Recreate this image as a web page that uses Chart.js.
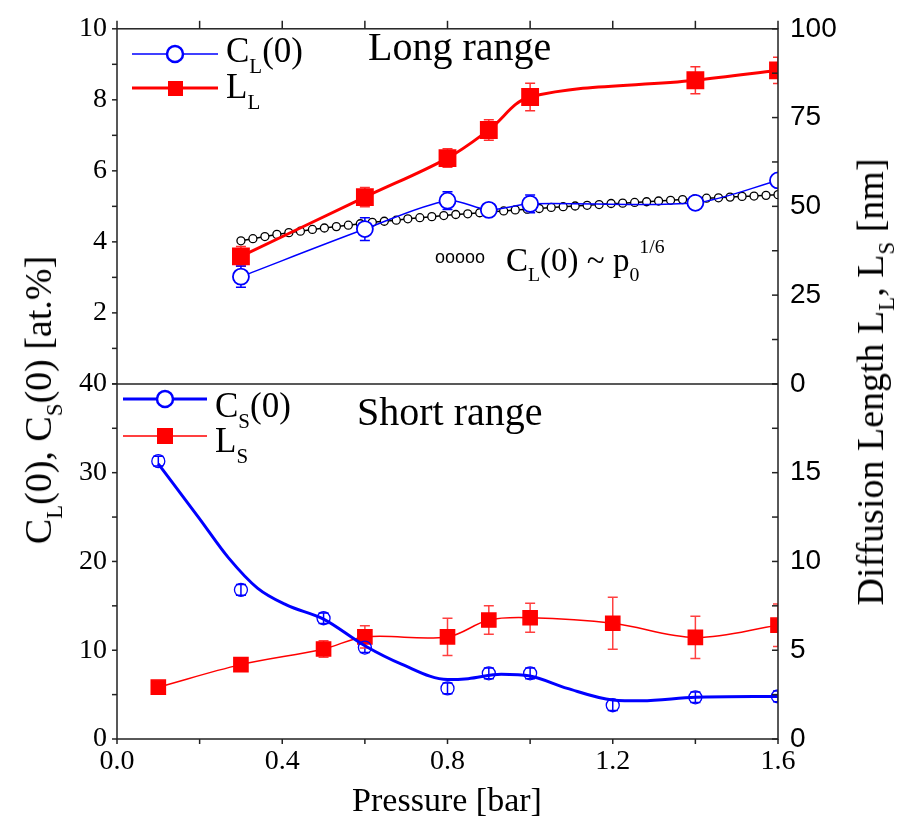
<!DOCTYPE html>
<html>
<head>
<meta charset="utf-8">
<script src="https://cdn.jsdelivr.net/npm/chart.js@4.4.1/dist/chart.umd.min.js"></script>
<style>
    body { margin: 0; background: #fff; }
    #quadro { position: relative; width: 901px; height: 827px; font-family: "Liberation Serif", "Times New Roman", serif; color: #000; }
    #grafico { position: absolute; left: 0; top: 0; }
    .txt { position: absolute; white-space: nowrap; line-height: 1; }
    .txt sub { font-size: 0.6em; vertical-align: -0.5em; line-height: 0; }
    .txt sup { font-size: 0.6em; vertical-align: 0.9em; line-height: 0; }
    .girado { transform: translate(-50%, -50%) rotate(-90deg); }
    svg { position: absolute; }
</style>
</head>
<body>
<div id="quadro">
    <canvas id="grafico" width="901" height="827"></canvas>

    <!-- legenda de cima -->
    <svg style="left:132px; top:42px;" width="86" height="24">
        <line x1="0" y1="12" x2="86" y2="12" stroke="#0000ff" stroke-width="1.5"/>
        <circle cx="43" cy="12" r="8" fill="#fff" stroke="#0000ff" stroke-width="2.5"/>
    </svg>
    <div class="txt" style="left:226px; top:32.7px; font-size:35px;">C<sub>L</sub>(0)</div>
    <svg style="left:132px; top:76px;" width="86" height="24">
        <line x1="0" y1="12" x2="86" y2="12" stroke="#ff0000" stroke-width="3"/>
        <rect x="36" y="5" width="15" height="15" fill="#ff0000"/>
    </svg>
    <div class="txt" style="left:226px; top:68.7px; font-size:35px;">L<sub>L</sub></div>
    <div class="txt" style="left:368px; top:26.5px; font-size:40px;">Long range</div>

    <div class="txt" style="left:435px; top:248px; font-size:18px; font-family:'Liberation Sans', Arial, sans-serif;">ooooo</div>
    <div class="txt" style="left:506px; top:244.4px; font-size:33px;">C<sub>L</sub>(0) ~ p<sub>0</sub><sup>1/6</sup></div>

    <!-- legenda de baixo -->
    <svg style="left:123px; top:387px;" width="84" height="24">
        <line x1="0" y1="12" x2="84" y2="12" stroke="#0000ff" stroke-width="3"/>
        <circle cx="42" cy="12" r="8" fill="#fff" stroke="#0000ff" stroke-width="2.5"/>
    </svg>
    <div class="txt" style="left:215px; top:387.7px; font-size:35px;">C<sub>S</sub>(0)</div>
    <svg style="left:123px; top:424px;" width="84" height="24">
        <line x1="0" y1="12" x2="84" y2="12" stroke="#ff0000" stroke-width="1.5"/>
        <rect x="34" y="4" width="16" height="16" fill="#ff0000"/>
    </svg>
    <div class="txt" style="left:215px; top:422.7px; font-size:35px;">L<sub>S</sub></div>
    <div class="txt" style="left:357px; top:391.5px; font-size:40px;">Short range</div>

    <!-- titulos dos eixos -->
    <div class="txt girado" style="left:38px; top:400px; font-size:38px;">C<sub>L</sub>(0), C<sub>S</sub>(0) [at.%]</div>
    <div class="txt girado" style="left:870px; top:382px; font-size:38px;">Diffusion Length L<sub>L</sub>, L<sub>S</sub> [nm]</div>
    <div class="txt" style="left:447px; top:782.5px; font-size:34px; transform:translateX(-50%);">Pressure [bar]</div>
</div>

<script>
// painel de cima (long range)
const pressaoLongo = [0.3, 0.6, 0.8, 0.9, 1.0, 1.4, 1.6];
const cLongo = [3.02, 4.36, 5.16, 4.90, 5.07, 5.10, 5.73];
const cLongoErro = [0.30, 0.32, 0.25, 0.15, 0.25, 0.10, 0.10];
const lLongo = [35.9, 52.6, 63.6, 71.5, 80.8, 85.5, 88.3];
const lLongoErro = [2.8, 2.7, 2.6, 2.9, 3.9, 3.8, 3.7];

// C_L(0) ~ p0^(1/6), circulos pretos pequenos
const pressaoAjuste = [0.300, 0.329, 0.358, 0.387, 0.416, 0.444, 0.473, 0.502, 0.531, 0.560,
    0.589, 0.618, 0.647, 0.676, 0.704, 0.733, 0.762, 0.791, 0.820, 0.849,
    0.878, 0.907, 0.936, 0.964, 0.993, 1.022, 1.051, 1.080, 1.109, 1.138,
    1.167, 1.196, 1.224, 1.253, 1.282, 1.311, 1.340, 1.369, 1.398, 1.427,
    1.456, 1.484, 1.513, 1.542, 1.571, 1.600];
const cAjuste = [4.03, 4.09, 4.15, 4.21, 4.26, 4.30, 4.35, 4.39, 4.43, 4.47,
    4.51, 4.55, 4.58, 4.61, 4.65, 4.68, 4.71, 4.74, 4.77, 4.79,
    4.82, 4.85, 4.87, 4.90, 4.92, 4.94, 4.97, 4.99, 5.01, 5.03,
    5.05, 5.08, 5.09, 5.11, 5.13, 5.15, 5.17, 5.19, 5.21, 5.23,
    5.24, 5.26, 5.28, 5.29, 5.31, 5.33];

// painel de baixo (short range)
const pressaoCurto = [0.1, 0.3, 0.5, 0.6, 0.8, 0.9, 1.0, 1.2, 1.4, 1.6];
const cCurto = [31.3, 16.8, 13.6, 10.3, 5.7, 7.4, 7.4, 3.8, 4.7, 4.8];
const cCurtoErro = [0.55, 0.6, 0.6, 0.55, 0.6, 0.6, 0.6, 0.6, 0.6, 0.6];
const lCurto = [2.92, 4.19, 5.07, 5.75, 5.75, 6.70, 6.83, 6.52, 5.72, 6.41];
const lCurtoErro = [0, 0, 0.46, 0.63, 1.05, 0.80, 0.82, 1.47, 1.19, 1.20];

// curva suavizada de C_S(0)
const pressaoSuave = [0.10, 0.20, 0.27, 0.34, 0.41, 0.50, 0.60, 0.69, 0.80, 0.85, 0.93, 1.00, 1.09, 1.20, 1.27, 1.40, 1.60];
const cSuave = [31.0, 24.8, 20.4, 17.0, 15.1, 13.5, 10.5, 8.4, 6.7, 6.8, 7.3, 7.1, 5.7, 4.4, 4.3, 4.7, 4.8];

const azul = '#0000ff';
const vermelho = '#ff0000';

function pares(xs, ys) {
    return xs.map((x, i) => ({ x: x, y: ys[i] }));
}

const barrasErro = {
    id: 'barrasErro',
    beforeDatasetsDraw(chart) {
        const ctx = chart.ctx;
        const a = chart.chartArea;
        chart.data.datasets.forEach((ds, i) => {
            if (!ds.erros) return;
            const meta = chart.getDatasetMeta(i);
            const escala = chart.scales[ds.yAxisID];
            ctx.save();
            ctx.beginPath();
            ctx.rect(a.left, a.top - 5, a.right - a.left, a.bottom - a.top + 10);
            ctx.clip();
            ctx.strokeStyle = ds.corErro;
            ctx.lineWidth = 1.5;
            meta.data.forEach((pt, j) => {
                const e = ds.erros[j];
                if (!e) return;
                const v = ds.data[j].y;
                const y1 = escala.getPixelForValue(v + e);
                const y2 = escala.getPixelForValue(v - e);
                const x = pt.x;
                ctx.beginPath();
                ctx.moveTo(x, y1); ctx.lineTo(x, y2);
                ctx.moveTo(x - 5, y1); ctx.lineTo(x + 5, y1);
                ctx.moveTo(x - 5, y2); ctx.lineTo(x + 5, y2);
                ctx.stroke();
            });
            ctx.restore();
        });
    }
};

const moldura = {
    id: 'moldura',
    afterDraw(chart) {
        const { ctx, chartArea: a, scales } = chart;
        ctx.save();
        ctx.strokeStyle = '#222';
        ctx.lineWidth = 1.5;
        const linha = (x1, y1, x2, y2) => {
            ctx.beginPath(); ctx.moveTo(x1, y1); ctx.lineTo(x2, y2); ctx.stroke();
        };
        ctx.strokeRect(a.left, a.top, a.right - a.left, a.bottom - a.top);
        const meio = scales.yEsqTopo.bottom;
        linha(a.left, meio, a.right, meio);

        scales.x.ticks.forEach(t => {
            const px = scales.x.getPixelForValue(t.value);
            linha(px, a.bottom, px, a.bottom + 5);
            linha(px, a.top, px, a.top - 8);
        });
        ['yEsqTopo', 'yEsqBase'].forEach(id => {
            const s = scales[id];
            s.ticks.forEach(t => {
                const py = s.getPixelForValue(t.value);
                linha(a.left - 5, py, a.left, py);
            });
        });
        ['yDirTopo', 'yDirBase'].forEach(id => {
            const s = scales[id];
            s.ticks.forEach(t => {
                const py = s.getPixelForValue(t.value);
                linha(a.right - 6, py, a.right, py);
            });
        });
        ctx.restore();
    }
};

const fonteSerif = { family: 'Liberation Serif', size: 28 };
const fonteSans = { family: 'Liberation Sans', size: 28 };
const semGrade = { display: false, drawTicks: false };

function eixoY(pos, stack, max, passo, mostrar, fonte, largura, pad) {
    return {
        type: 'linear',
        position: pos,
        stack: stack,
        min: 0,
        max: max,
        grid: semGrade,
        border: { display: false },
        ticks: {
            stepSize: passo,
            autoSkip: false,
            padding: pad,
            color: '#000',
            font: fonte,
            callback: v => mostrar(v) ? String(v) : ''
        },
        afterFit: s => { s.width = largura; }
    };
}

new Chart(document.getElementById('grafico').getContext('2d'), {
    type: 'line',
    data: {
        datasets: [
            {
                data: pares(pressaoLongo, lLongo), yAxisID: 'yDirTopo', clip: 0,
                borderColor: vermelho, backgroundColor: vermelho, borderWidth: 3,
                pointStyle: 'rect', pointRadius: 10.5, tension: 0.35,
                erros: lLongoErro, corErro: '#ff3030'
            },
            {
                data: pares(pressaoLongo, cLongo), yAxisID: 'yEsqTopo', clip: 0,
                borderColor: azul, backgroundColor: '#fff', borderWidth: 1.5,
                pointRadius: 8, pointBorderWidth: 1.8, tension: 0.3,
                erros: cLongoErro, corErro: azul
            },
            {
                data: pares(pressaoAjuste, cAjuste), yAxisID: 'yEsqTopo', clip: 0,
                borderColor: '#000', backgroundColor: '#fff', borderWidth: 1.5,
                pointRadius: 4, pointBorderWidth: 1.3, tension: 0
            },
            {
                data: pares(pressaoSuave, cSuave), yAxisID: 'yEsqBase', clip: 0,
                borderColor: azul, borderWidth: 3, pointRadius: 0,
                cubicInterpolationMode: 'monotone'
            },
            {
                data: pares(pressaoCurto, cCurto), yAxisID: 'yEsqBase', clip: 0,
                borderColor: azul, backgroundColor: 'rgba(0,0,0,0)', showLine: false,
                pointRadius: 6.5, pointBorderWidth: 1.3,
                erros: cCurtoErro, corErro: azul
            },
            {
                data: pares(pressaoCurto, lCurto), yAxisID: 'yDirBase', clip: 0,
                borderColor: vermelho, backgroundColor: vermelho, borderWidth: 1.5,
                pointStyle: 'rect', pointRadius: 10, tension: 0.35,
                erros: lCurtoErro, corErro: '#ff4040'
            }
        ]
    },
    options: {
        responsive: false,
        animation: false,
        layout: { padding: { top: 23, left: 0, right: 0, bottom: 0 } },
        plugins: { legend: { display: false }, tooltip: { enabled: false } },
        scales: {
            x: {
                type: 'linear', min: 0, max: 1.6,
                grid: semGrade,
                border: { display: false },
                ticks: {
                    stepSize: 0.2, autoSkip: false, maxRotation: 0, padding: 6,
                    color: '#000', font: fonteSerif,
                    callback: v => Math.round(v * 10) % 4 === 0 ? v.toFixed(1) : ''
                },
                afterFit: s => { s.height = 88; }
            },
            yEsqBase: eixoY('left', 'esq', 40, 5, v => v % 10 === 0, fonteSerif, 117, 10),
            yEsqTopo: eixoY('left', 'esq', 10, 1, v => v % 2 === 0 && v !== 0, fonteSerif, 117, 10),
            yDirTopo: eixoY('right', 'dir', 100, 12.5, v => v % 25 === 0, fonteSans, 123, 12),
            yDirBase: eixoY('right', 'dir', 20, 2.5, v => v % 5 === 0 && v !== 20, fonteSans, 123, 12)
        }
    },
    plugins: [barrasErro, moldura]
});
</script>
</body>
</html>
